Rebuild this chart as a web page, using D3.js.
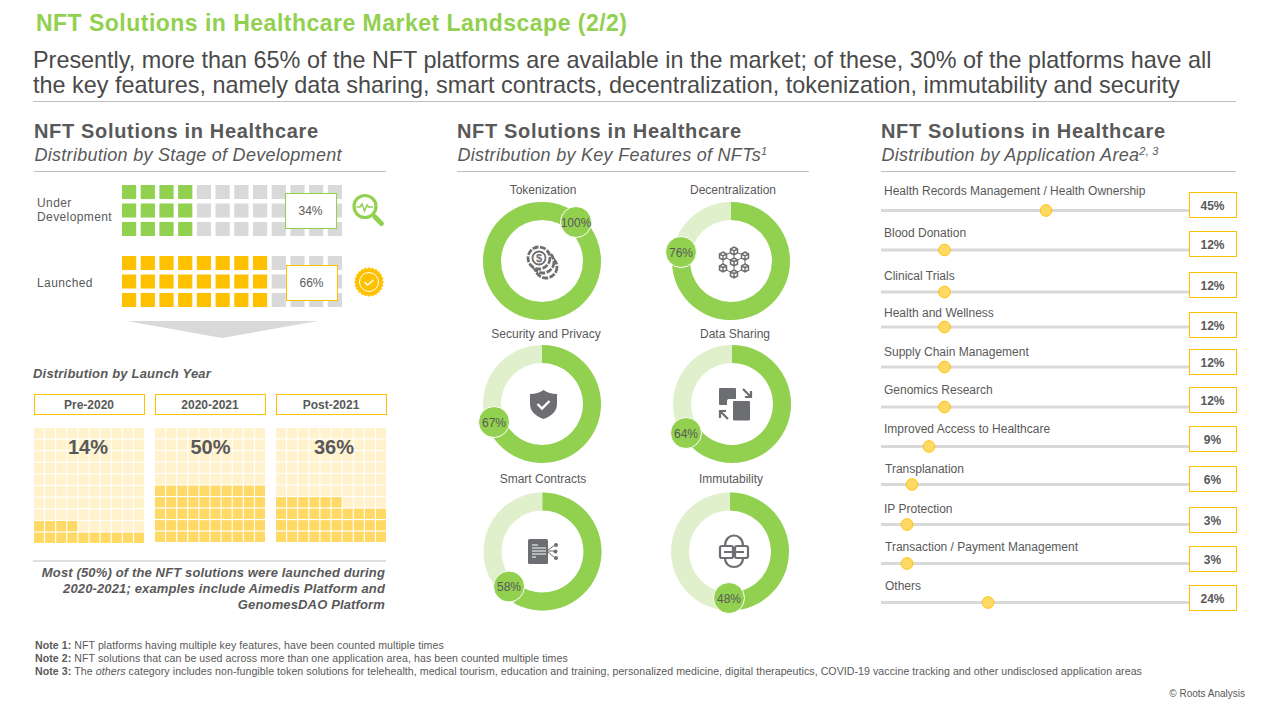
<!DOCTYPE html>
<html>
<head>
<meta charset="utf-8">
<script src="https://cdn.jsdelivr.net/npm/d3@7"></script>
<style>
  html, body { margin: 0; padding: 0; background: #fff; }
  svg { display: block; }
  text { font-family: "Liberation Sans", Arial, sans-serif; fill: #595959; }
</style>
</head>
<body>
<div id="chart"></div>
<script>
// stage of development
const stageLabels = [["Under", "Development"], ["Launched"]];
const stageValues = [34, 66];

// launch year
const yearLabels = ["Pre-2020", "2020-2021", "Post-2021"];
const yearValues = [14, 50, 36];

// key features
const featureLabels = ["Tokenization", "Decentralization", "Security and Privacy", "Data Sharing", "Smart Contracts", "Immutability"];
const featureValues = [100, 76, 67, 64, 58, 48];

// application area
const areaLabels = ["Health Records Management / Health Ownership", "Blood Donation", "Clinical Trials", "Health and Wellness",
  "Supply Chain Management", "Genomics Research", "Improved Access to Healthcare", "Transplanation", "IP Protection",
  "Transaction / Payment Management", "Others"];
const areaValues = [45, 12, 12, 12, 12, 12, 9, 6, 3, 3, 24];

const GREEN = "#92D050", AMBER = "#FFC000", GREY = "#D9D9D9", ICON = "#6D6E71", INK = "#595959";

const svg = d3.select("#chart").append("svg")
  .attr("width", 1280).attr("height", 720).attr("viewBox", [0, 0, 1280, 720]);

function label(x, y, str, size, opts) {
  opts = opts || {};
  return svg.append("text")
    .attr("x", x).attr("y", y)
    .attr("font-size", size)
    .attr("font-weight", opts.bold ? "bold" : null)
    .attr("font-style", opts.italic ? "italic" : null)
    .attr("text-anchor", opts.anchor || "start")
    .attr("letter-spacing", opts.spacing || null)
    .style("fill", opts.fill || INK)
    .text(str);
}

function rule(x1, x2, y) {
  svg.append("line").attr("x1", x1).attr("x2", x2).attr("y1", y).attr("y2", y)
    .attr("stroke", "#BFBFBF").attr("stroke-width", 1);
}

// header
label(36, 31, "NFT Solutions in Healthcare Market Landscape (2/2)", 23, {bold: true, fill: GREEN, spacing: 0.48});
label(33, 68, "Presently, more than 65% of the NFT platforms are available in the market; of these, 30% of the platforms have all", 23.4, {fill: "#4A4A4A"});
label(33, 93, "the key features, namely data sharing, smart contracts, decentralization, tokenization, immutability and security", 23.4, {fill: "#4A4A4A"});
rule(33, 1236, 101.5);

// column headings
const headings = [
  [34, 386, "Distribution by Stage of Development"],
  [457, 809, "Distribution by Key Features of NFTs", "1"],
  [881, 1236, "Distribution by Application Area", "2, 3"]
];
headings.forEach(h => {
  label(h[0], 138, "NFT Solutions in Healthcare", 20, {bold: true, spacing: 0.67});
  const sub = label(h[0] + 0.5, 161, h[2], 18, {italic: true, spacing: 0.28});
  if (h[3]) sub.append("tspan").attr("dy", -6).attr("font-size", 11).text(h[3]);
  rule(h[0], h[1], 171.5);
});

// stage waffles
const stageX = d3.scaleBand().domain(d3.range(12)).range([122, 342]).paddingInner(0.24);
const stageRows = [
  d3.scaleBand().domain(d3.range(3)).range([185, 236]).paddingInner(0.24),
  d3.scaleBand().domain(d3.range(3)).range([256, 307]).paddingInner(0.24)
];
const stageColors = [GREEN, AMBER];
const stageBoxes = [[285.5, 193.5], [286.5, 265.5]];
const stageTextY = [[207, 221], [287]];

stageValues.forEach((v, i) => {
  const filled = Math.round(v / 100 * 12);
  const cells = d3.cross(d3.range(12), d3.range(3));
  svg.append("g").selectAll("rect").data(cells).join("rect")
    .attr("x", d => stageX(d[0])).attr("y", d => stageRows[i](d[1]))
    .attr("width", stageX.bandwidth()).attr("height", stageRows[i].bandwidth())
    .attr("fill", d => d[0] < filled ? stageColors[i] : GREY);
  svg.append("rect").attr("x", stageBoxes[i][0]).attr("y", stageBoxes[i][1])
    .attr("width", 51).attr("height", 35)
    .attr("fill", "#fff").attr("stroke", stageColors[i]).attr("stroke-width", 1);
  label(stageBoxes[i][0] + 25, stageBoxes[i][1] + 21, v + "%", 12, {anchor: "middle"});
  stageLabels[i].forEach((s, j) => {
    label(37, stageTextY[i][j], s, 12, {bold: false, spacing: 0.4});
  });
});

// magnifier icon
const mag = svg.append("g").attr("fill", "none").attr("stroke", GREEN).attr("stroke-linecap", "round");
mag.append("circle").attr("cx", 365).attr("cy", 206.5).attr("r", 11).attr("stroke-width", 3.2);
mag.append("path").attr("d", "M375 217L381.5 223.5").attr("stroke-width", 5);
mag.append("path").attr("d", "M357 207h3l2 -3l2.5 7l2.5 -6l1.5 2h4").attr("stroke-width", 1.5);

// badge icon
const badgePts = d3.range(48).map(i => [i / 48 * 2 * Math.PI, i % 2 ? 13.4 : 15]);
const badge = svg.append("g").attr("transform", "translate(369,282)");
badge.append("path").attr("d", d3.lineRadial().curve(d3.curveLinearClosed)(badgePts)).attr("fill", AMBER);
badge.append("circle").attr("r", 9.5).attr("fill", "none").attr("stroke", "#fff").attr("stroke-width", 1);
badge.append("path").attr("d", "M-4.5 0l3 3l6 -5").attr("fill", "none").attr("stroke", "#fff").attr("stroke-width", 1.4);

// down arrow
svg.append("path").attr("d", "M127 321H318L222 338Z").attr("fill", GREY);

// launch year
label(33, 378, "Distribution by Launch Year", 13, {bold: true, italic: true, spacing: 0.2});
const yearPanels = [[34, 144, 543], [155, 265, 542], [276, 386, 542]];
const yearCenters = [88, 210.5, 334];

yearValues.forEach((v, i) => {
  const p = yearPanels[i];
  svg.append("rect").attr("x", p[0] + 0.5).attr("y", 394.5).attr("width", p[1] - p[0]).attr("height", 20)
    .attr("fill", "#fff").attr("stroke", AMBER).attr("stroke-width", 1);
  label((p[0] + p[1]) / 2, 409, yearLabels[i], 12, {bold: true, anchor: "middle"});

  const col = d3.scaleBand().domain(d3.range(10)).range([p[0], p[1]]).paddingInner(0.1);
  const row = d3.scaleBand().domain(d3.range(10)).range([p[2], 428]).paddingInner(0.1);
  // fills from the bottom row, left to right
  svg.append("g").selectAll("rect").data(d3.range(100)).join("rect")
    .attr("x", d => col(d % 10)).attr("y", d => row(Math.floor(d / 10)))
    .attr("width", col.bandwidth()).attr("height", row.bandwidth())
    .attr("fill", d => d < v ? "#FFD966" : "#FFF2CC");
  label(yearCenters[i], 454, v + "%", 20, {bold: true, anchor: "middle"});
});

rule(33, 386, 561);
["Most (50%) of the NFT solutions were launched during", "2020-2021; examples include Aimedis Platform and", "GenomesDAO Platform"]
  .forEach((s, i) => label(385, 577 + i * 15.8, s, 13, {bold: true, italic: true, anchor: "end", spacing: 0.14}));

// donuts
const donutCenters = [[542, 261], [731, 261], [542, 404], [732, 404], [542.5, 551.5], [730, 551.5]];
const bubbleOffsets = [[34, -39], [-50, -9], [-48, 18], [-46, 29], [-33.5, 35], [-1, 46.5]];
const titleY = [194, 194, 338, 338, 483, 483];
const titleX = [543, 733, 546, 735, 543, 731];
const angle = d3.scaleLinear().domain([0, 100]).range([0, 2 * Math.PI]);
const ring = d3.arc().innerRadius(41).outerRadius(59).startAngle(0);

featureValues.forEach((v, i) => {
  const g = svg.append("g").attr("transform", `translate(${donutCenters[i]})`);
  g.append("path").attr("d", ring({endAngle: angle(100)})).attr("fill", "#E0F0CC");
  g.append("path").attr("d", ring({endAngle: angle(v)})).attr("fill", GREEN);
  const o = bubbleOffsets[i];
  g.append("circle").attr("cx", o[0]).attr("cy", o[1]).attr("r", 15.5)
    .attr("fill", GREEN).attr("stroke", "#fff").attr("stroke-width", 1);
  g.append("text").attr("x", o[0]).attr("y", o[1] + 4.5).attr("text-anchor", "middle")
    .attr("font-size", 12).text(v + "%");
  label(titleX[i], titleY[i], featureLabels[i], 12, {anchor: "middle"});
});

// donut icons
const coins = svg.append("g").attr("fill", "#fff").attr("stroke", ICON);
[[546, 267], [543, 262], [539, 258]].forEach(c => {
  coins.append("circle").attr("cx", c[0]).attr("cy", c[1]).attr("r", 11)
    .attr("stroke-width", 2.8).attr("stroke-dasharray", "6 1.5");
});
coins.append("circle").attr("cx", 539).attr("cy", 258).attr("r", 6.5).attr("stroke-width", 1.8);
svg.append("text").attr("x", 539).attr("y", 262).attr("text-anchor", "middle")
  .attr("font-size", 11).attr("font-weight", "bold").style("fill", ICON).text("$");

const hexNodes = [[734, 251], [723, 256], [745, 256], [734, 262], [723, 268], [745, 268], [734, 274]];
const hexLinks = [[0, 1], [0, 2], [1, 4], [2, 5], [4, 6], [5, 6], [3, 0], [3, 1], [3, 2], [3, 6]];
svg.append("g").attr("stroke", ICON).attr("stroke-width", 1).selectAll("line").data(hexLinks).join("line")
  .attr("x1", d => hexNodes[d[0]][0]).attr("y1", d => hexNodes[d[0]][1])
  .attr("x2", d => hexNodes[d[1]][0]).attr("y2", d => hexNodes[d[1]][1]);
svg.append("g").selectAll("path").data(hexNodes).join("path")
  .attr("transform", d => `translate(${d})`)
  .attr("d", "M0 -4L3.5 -2V2L0 4L-3.5 2V-2ZM-3.5 -2L0 0L3.5 -2M0 0V4")
  .attr("fill", "#fff").attr("stroke", ICON).attr("stroke-width", 1.5);

svg.append("path").attr("d", "M543.5 390Q549 394 557 394V404Q557 414 543.5 419Q530 414 530 404V394Q538 394 543.5 390Z").attr("fill", ICON);
svg.append("path").attr("d", "M537.5 404l4.5 4.5l7.5 -7.5").attr("fill", "none").attr("stroke", "#fff").attr("stroke-width", 2.4);

svg.append("path").attr("d", "M720 388H735Q736 388 736 389V399H729Q727 399 727 401V405H720Q719 405 719 404V389Q719 388 720 388Z").attr("fill", ICON);
svg.append("rect").attr("x", 733).attr("y", 401).attr("width", 17).attr("height", 19.5).attr("rx", 1).attr("fill", ICON);
svg.append("path").attr("d", "M743 389l7 7M751 391v6h-6M728 419l-7 -7M720 418v-7h6").attr("fill", "none").attr("stroke", ICON).attr("stroke-width", 2.2);

svg.append("rect").attr("x", 528).attr("y", 539).attr("width", 20).attr("height", 25).attr("rx", 1.5).attr("fill", ICON);
svg.append("g").attr("stroke", "#fff").attr("stroke-width", 1).selectAll("line")
  .data([[532, 538, 545], [532, 546, 548], [532, 546, 551], [532, 546, 554], [532, 536, 557]]).join("line")
  .attr("x1", d => d[0]).attr("x2", d => d[1]).attr("y1", d => d[2]).attr("y2", d => d[2]);
svg.append("path").attr("d", "M548 550L555 545M548 551H555M548 552L555 558").attr("stroke", ICON).attr("fill", "none");
svg.append("g").attr("fill", ICON).selectAll("circle").data([[556, 545], [555.5, 551.5], [556, 558]]).join("circle")
  .attr("cx", d => d[0]).attr("cy", d => d[1]).attr("r", 2);

const chain = svg.append("g").attr("fill", "none").attr("stroke", ICON).attr("stroke-width", 2.2);
chain.append("path").attr("d", "M725 546C725 532 743 532 743 546M725 558C725 570 743 570 743 558");
chain.append("rect").attr("x", 720).attr("y", 546).attr("width", 13).attr("height", 12).attr("rx", 2);
chain.append("rect").attr("x", 735).attr("y", 546).attr("width", 13).attr("height", 12).attr("rx", 2);
chain.append("path").attr("d", "M724 552h20").attr("stroke-width", 2);

// application area sliders
const sliderX = d3.scaleLinear().domain([3, 6, 9, 12, 24, 45]).range([907, 912, 929, 944.5, 988, 1046]);
const trackY = [210.5, 250, 292, 327, 367, 407, 446.5, 484.5, 524.5, 563.5, 602.5];
const boxY = [192.5, 231.5, 272.5, 312.5, 349.5, 387.5, 426.5, 466.5, 507.5, 546.5, 585.5];
const areaTextY = [195, 237, 280, 317, 356, 394, 433, 473, 513, 551, 590];
const areaTextX = [884, 884, 884, 884, 884, 884, 884, 885, 884, 885, 885];

areaValues.forEach((v, i) => {
  svg.append("rect").attr("x", 881).attr("y", trackY[i] - 1.5).attr("width", 308).attr("height", 3).attr("fill", GREY);
  svg.append("circle").attr("cx", sliderX(v)).attr("cy", trackY[i]).attr("r", 5.8)
    .attr("fill", "#FFD966").attr("stroke", AMBER).attr("stroke-width", 1);
  svg.append("rect").attr("x", 1189.5).attr("y", boxY[i]).attr("width", 47).attr("height", 25)
    .attr("fill", "#fff").attr("stroke", AMBER).attr("stroke-width", 1);
  label(1212.5, boxY[i] + 17, v + "%", 12, {bold: true, anchor: "middle"});
  label(areaTextX[i], areaTextY[i], areaLabels[i], 12);
});

// notes
function note(y, head, parts) {
  const t = label(35, y, "", 10.6, {spacing: 0.06});
  t.append("tspan").attr("font-weight", "bold").text(head + " ");
  parts.forEach(p => t.append("tspan").attr("font-style", p[1] ? "italic" : null).text(p[0]));
}
note(649, "Note 1:", [["NFT platforms having multiple key features, have been counted multiple times"]]);
note(662, "Note 2:", [["NFT solutions that can be used across more than one application area, has been counted multiple times"]]);
note(675, "Note 3:", [["The "], ["others", true], [" category includes non-fungible token solutions for telehealth, medical tourism, education and training, personalized medicine, digital therapeutics, COVID-19 vaccine tracking and other undisclosed application areas"]]);
label(1245, 697, "© Roots Analysis", 10, {anchor: "end"});
</script>
</body>
</html>
